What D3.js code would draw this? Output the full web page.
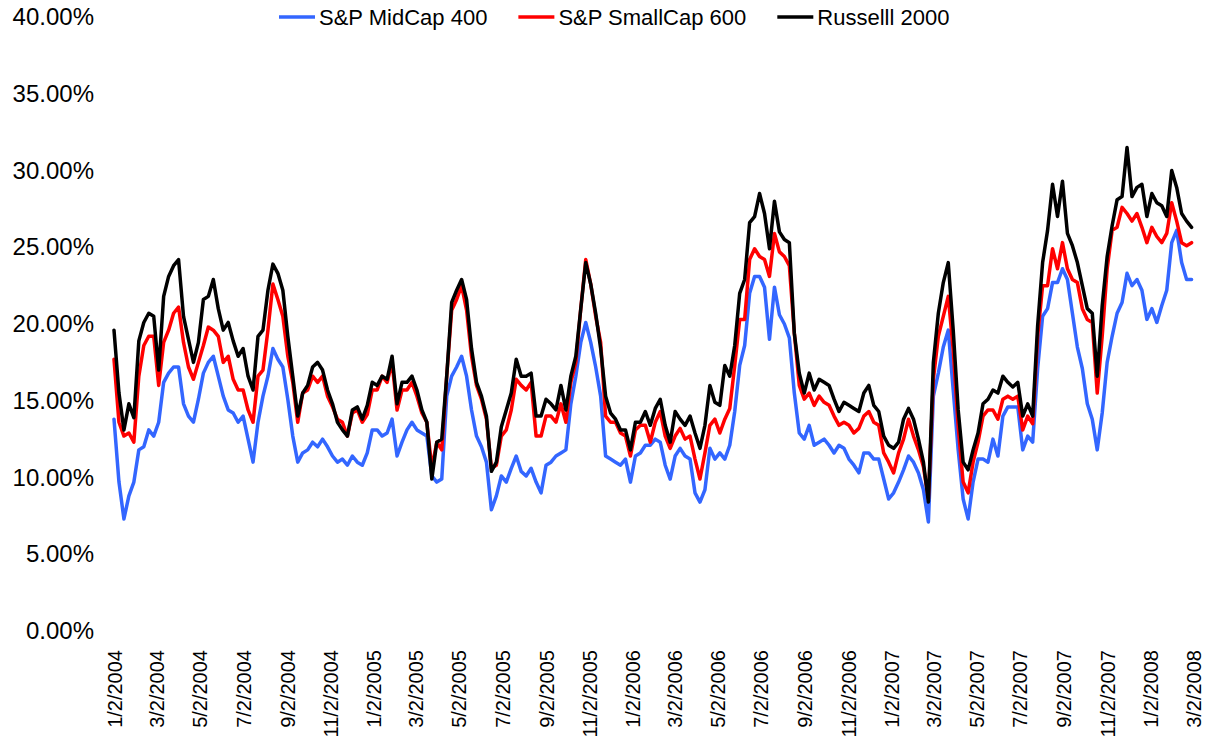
<!DOCTYPE html>
<html>
<head>
<meta charset="utf-8">
<script src="https://cdn.jsdelivr.net/npm/d3@7"></script>
<style>
  html, body { margin: 0; padding: 0; background: #ffffff; }
  svg { display: block; font-family: "Liberation Sans", Arial, sans-serif; }
</style>
</head>
<body>
<svg id="chart" width="1211" height="748"></svg>
<script>
// ---- data (weekly readings, in %) ----
const seriesNames = ["S&P MidCap 400", "S&P SmallCap 600", "Russelll 2000"];
const seriesColors = ["#3366FF", "#FF0000", "#000000"];
const firstDate = "2004-01-02";   // first observation; one reading per week
const stepDays = 7;

const midcap400 = [
13.8,9.7,7.3,8.8,9.7,11.8,12.0,13.1,12.7,13.6,16.2,16.8,17.2,17.2,14.8,14.0,13.6,15.1,16.8,17.5,
17.9,16.6,15.3,14.4,14.2,13.6,14.0,12.5,11.0,13.6,15.3,16.6,18.4,17.7,17.2,15.1,12.7,11.0,11.6,11.8,
12.3,12.0,12.5,12.0,11.4,11.0,11.2,10.8,11.4,11.0,10.8,11.6,13.1,13.1,12.7,12.9,13.8,11.4,12.3,13.1,
13.6,13.1,12.9,12.7,10.1,9.7,9.9,15.3,16.6,17.2,17.9,16.6,14.4,12.7,12.0,11.0,7.9,8.8,10.1,9.7,
10.6,11.4,10.4,10.1,10.6,9.7,9.0,10.8,11.0,11.4,11.6,11.8,14.8,16.6,18.8,20.1,18.8,17.2,15.3,11.4,
11.2,11.0,10.8,11.2,9.7,11.4,11.6,12.1,12.1,12.5,12.3,10.8,9.9,11.4,11.9,11.4,11.2,9.0,8.4,9.2,
11.9,11.2,11.6,11.2,12.1,14.3,17.3,18.6,22.0,23.1,23.1,22.4,19.0,22.4,20.6,20.0,19.1,15.5,12.9,12.5,
13.4,12.1,12.3,12.5,12.1,11.6,12.1,11.9,11.2,10.8,10.3,11.6,11.6,11.2,11.2,9.9,8.6,9.0,9.7,10.5,
11.4,11.0,10.3,9.2,7.1,15.3,16.8,18.5,19.6,15.7,11.8,8.6,7.3,9.7,11.2,11.2,11.0,12.5,11.4,14.0,
14.6,14.6,14.6,11.8,12.7,12.3,17.1,20.5,21.0,22.7,22.7,23.6,22.9,20.7,18.5,17.1,14.8,13.8,11.8,14.2,
17.5,19.2,20.7,21.4,23.3,22.5,22.9,22.2,20.3,21.0,20.1,21.2,22.2,25.3,26.1,24.0,22.9,22.9
];

const smallcap600 = [
17.7,13.6,12.7,12.9,12.3,16.6,18.6,19.2,19.2,16.0,18.8,19.6,20.7,21.1,18.8,17.2,16.4,17.5,18.6,19.8,
19.6,19.2,17.5,17.9,16.4,15.7,15.7,14.4,13.6,16.6,17.0,19.6,22.6,21.6,20.5,17.9,16.2,13.6,15.5,15.7,
16.6,16.2,16.6,15.3,14.6,13.8,13.6,12.7,14.2,14.4,13.6,14.1,15.7,15.7,16.6,16.2,17.5,14.4,15.7,15.7,
16.2,15.3,14.2,13.6,10.6,12.3,11.8,16.6,20.9,21.6,22.5,20.9,17.9,16.0,15.1,13.8,10.6,10.8,12.7,13.1,
14.4,16.4,16.0,15.7,16.2,12.7,12.7,14.0,14.0,13.6,14.8,13.6,16.2,17.5,21.0,24.2,22.6,20.5,18.8,14.0,
13.6,13.6,12.9,12.7,11.4,13.1,13.4,13.4,12.3,13.6,14.3,12.7,11.9,12.7,13.2,12.5,12.7,11.2,9.9,11.6,
13.4,13.8,12.9,13.8,14.5,17.3,20.3,20.3,24.2,24.9,24.4,24.2,23.1,25.9,24.7,24.4,23.8,19.4,16.0,15.1,
15.5,14.7,15.3,14.9,14.7,14.0,13.4,13.6,13.4,12.9,13.2,14.0,14.3,13.6,13.4,11.6,11.0,10.3,11.6,12.5,
13.8,12.7,11.8,10.7,8.6,16.4,19.2,20.5,21.8,18.3,13.3,9.7,9.0,11.0,12.3,14.0,14.4,14.4,13.8,15.1,
15.3,15.1,15.3,13.1,14.0,13.5,19.2,22.5,22.5,24.9,23.6,25.3,23.6,22.9,22.7,21.0,20.3,20.1,15.5,19.2,
23.6,26.1,26.3,27.6,27.2,26.7,27.2,26.3,25.3,26.3,25.7,25.3,25.9,27.9,26.7,25.3,25.1,25.3
];

const russell2000 = [
19.6,15.5,13.1,14.8,13.9,18.9,20.1,20.7,20.5,17.0,21.8,23.1,23.8,24.2,20.5,19.0,17.5,18.8,21.6,21.8,
22.9,21.0,19.6,20.1,18.9,17.9,18.4,16.6,15.7,19.2,19.6,22.2,23.9,23.3,22.2,19.2,16.6,14.0,15.5,16.0,
17.2,17.5,17.0,15.7,14.8,13.6,13.1,12.7,14.4,14.6,13.8,14.7,16.2,16.0,16.6,16.4,17.9,14.8,16.2,16.2,
16.6,15.7,14.4,13.6,9.9,12.3,12.5,16.6,21.4,22.2,22.9,21.6,18.4,16.2,15.3,14.0,10.4,11.0,13.3,14.4,
15.5,17.7,16.6,16.6,16.8,14.0,14.0,15.1,14.8,14.4,16.0,14.4,16.6,17.9,21.0,24.0,22.6,20.7,18.4,15.3,
14.2,13.8,13.1,13.1,11.8,13.6,13.6,14.3,13.4,14.5,15.1,13.4,12.3,14.3,13.8,13.4,14.0,12.9,11.9,13.4,
16.0,14.9,14.7,17.3,16.6,18.6,22.0,22.9,26.6,27.0,28.5,27.2,24.9,28.0,26.0,25.5,25.3,19.4,16.8,15.5,
16.8,15.7,16.4,16.2,16.0,15.1,14.3,14.9,14.7,14.5,14.3,15.5,16.0,14.7,14.3,12.7,12.1,11.9,12.3,13.8,
14.5,13.8,12.5,11.0,8.4,17.5,20.7,22.7,24.0,19.6,14.4,11.0,10.5,11.8,12.9,14.8,15.1,15.7,15.5,16.6,
16.2,15.9,16.2,14.0,14.8,14.0,19.9,24.0,26.1,29.1,27.0,29.3,25.9,25.1,24.0,22.5,21.0,20.7,16.6,21.2,
24.4,26.4,28.1,28.3,31.5,28.3,28.9,29.1,27.0,28.5,27.9,27.7,27.0,30.0,28.9,27.2,26.7,26.3
];

const yTicks = [0, 5, 10, 15, 20, 25, 30, 35, 40];
const xTickLabels = [
"1/2/2004","3/2/2004","5/2/2004","7/2/2004","9/2/2004","11/2/2004",
"1/2/2005","3/2/2005","5/2/2005","7/2/2005","9/2/2005","11/2/2005",
"1/2/2006","3/2/2006","5/2/2006","7/2/2006","9/2/2006","11/2/2006",
"1/2/2007","3/2/2007","5/2/2007","7/2/2007","9/2/2007","11/2/2007",
"1/2/2008","3/2/2008"
];

// ---- build ----
const parseTick = d3.timeParse("%m/%d/%Y");
const tickDates = xTickLabels.map(parseTick);
const start = d3.timeParse("%Y-%m-%d")(firstDate);
const allSeries = [midcap400, smallcap600, russell2000];
const dates = midcap400.map((_, i) => d3.timeDay.offset(start, i * stepDays));

const svg = d3.select("#chart");
svg.append("rect").attr("width", 1211).attr("height", 748).attr("fill", "#fff");

const x = d3.scaleTime()
  .domain([tickDates[0], tickDates[tickDates.length - 1]])
  .range([114, 1193]);
const y = d3.scaleLinear().domain([0, 40]).range([631, 17]);

// Y axis (labels only)
const yAxis = d3.axisLeft(y)
  .tickValues(yTicks)
  .tickSize(0)
  .tickPadding(20)
  .tickFormat(d => d.toFixed(2) + "%");
const gy = svg.append("g").attr("transform", "translate(114,0)").call(yAxis);
gy.select(".domain").remove();
gy.selectAll("text")
  .attr("font-size", 24)
  .attr("font-family", "Liberation Sans, Arial, sans-serif")
  .attr("fill", "#000");

// X axis (rotated labels only)
const fmtMap = new Map(tickDates.map((d, i) => [+d, xTickLabels[i]]));
const xAxis = d3.axisBottom(x)
  .tickValues(tickDates)
  .tickSize(0)
  .tickFormat(d => fmtMap.get(+d));
const gx = svg.append("g").attr("transform", "translate(0,631)").call(xAxis);
gx.select(".domain").remove();
gx.selectAll("text")
  .attr("font-size", 20)
  .attr("font-family", "Liberation Sans, Arial, sans-serif")
  .attr("fill", "#000")
  .attr("text-anchor", "end")
  .attr("transform", "rotate(-90)")
  .attr("x", -19)
  .attr("y", 0)
  .attr("dy", "0.35em");

// Lines
const line = d3.line()
  .x((d, i) => x(dates[i]))
  .y(d => y(d));

allSeries.forEach((vals, k) => {
  svg.append("path")
    .datum(vals)
    .attr("fill", "none")
    .attr("stroke", seriesColors[k])
    .attr("stroke-width", 3.5)
    .attr("stroke-linejoin", "round")
    .attr("stroke-linecap", "round")
    .attr("d", line);
});

// Legend
const legend = svg.append("g");
let lx = 279;
const ly = 17;
seriesNames.forEach((name, k) => {
  legend.append("line")
    .attr("x1", lx).attr("x2", lx + 36)
    .attr("y1", ly).attr("y2", ly)
    .attr("stroke", seriesColors[k])
    .attr("stroke-width", 3.5);
  const t = legend.append("text")
    .attr("x", lx + 40)
    .attr("y", ly)
    .attr("dy", "0.35em")
    .attr("font-size", 22)
    .attr("fill", "#000")
    .text(name);
  lx = lx + 40 + t.node().getComputedTextLength() + 31;
});
</script>
</body>
</html>
